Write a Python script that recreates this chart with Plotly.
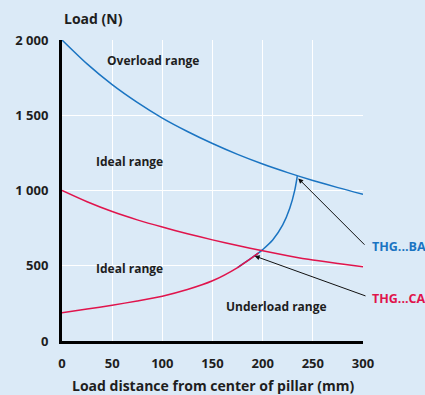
import plotly.graph_objects as go

# Data
ba_upper_x = [0, 25, 50, 75, 100, 125, 150, 175, 200, 225, 250, 275, 300]
ba_upper_y = [2000, 1841, 1703, 1585, 1481, 1392, 1312, 1240, 1176, 1119, 1067, 1019, 975]

ca_upper_x = [0, 25, 50, 75, 100, 125, 150, 175, 200, 225, 250, 275, 300]
ca_upper_y = [1000, 925, 860, 805, 757, 713, 672, 634, 599, 567, 538, 515, 494]

ca_lower_x = [0, 25, 50, 75, 100, 125, 150, 175, 196]
ca_lower_y = [188, 212, 238, 266, 298, 342, 400, 488, 585]

ba_lower_x = [175, 196, 200, 210, 220, 227, 232, 234.5]
ba_lower_y = [488, 585, 607, 671, 771, 882, 1003, 1096]

x_ticks = [0, 50, 100, 150, 200, 250, 300]
y_ticks = [0, 500, 1000, 1500, 2000]
y_tick_labels = ["0", "500", "1 000", "1 500", "2 000"]

BLUE = "#1a74c2"
RED = "#e0144c"
TXT = "#1e1e1e"
BG = "#dbeaf7"
FONT = "Open Sans"

fig = go.Figure()
line_kw = dict(width=1.5, shape="spline", smoothing=0.8)
fig.add_trace(go.Scatter(x=ba_upper_x, y=ba_upper_y, mode="lines", line=dict(color=BLUE, **line_kw), showlegend=False, hoverinfo="skip"))
fig.add_trace(go.Scatter(x=ba_lower_x, y=ba_lower_y, mode="lines", line=dict(color=BLUE, **line_kw), showlegend=False, hoverinfo="skip"))
fig.add_trace(go.Scatter(x=ca_upper_x, y=ca_upper_y, mode="lines", line=dict(color=RED, **line_kw), showlegend=False, hoverinfo="skip"))
fig.add_trace(go.Scatter(x=ca_lower_x, y=ca_lower_y, mode="lines", line=dict(color=RED, **line_kw), showlegend=False, hoverinfo="skip"))

lab_font = dict(family=FONT, size=12, color=TXT, weight="bold")
for txt, x, y in [("Overload range", 91, 1867), ("Ideal range", 67, 1196),
                  ("Ideal range", 67, 485), ("Underload range", 214, 226)]:
    fig.add_annotation(x=x, y=y, text=txt, showarrow=False, font=lab_font)

# arrows
fig.add_annotation(x=235.5, y=1080, ax=303, ay=630, axref="x", ayref="y", text="",
                   showarrow=True, arrowhead=2, arrowsize=1, arrowwidth=1, arrowcolor="#111")
fig.add_annotation(x=192, y=565, ax=304, ay=296, axref="x", ayref="y", text="",
                   showarrow=True, arrowhead=2, arrowsize=1, arrowwidth=1, arrowcolor="#111")
fig.add_annotation(x=1, y=630, xref="paper", yref="y", xanchor="left", xshift=7, text="THG...BA",
                   showarrow=False, font=dict(family=FONT, size=12.5, color=BLUE, weight="bold"))
fig.add_annotation(x=1, y=285, xref="paper", yref="y", xanchor="left", xshift=7, text="THG...CA",
                   showarrow=False, font=dict(family=FONT, size=12.5, color=RED, weight="bold"))

# axis titles
fig.add_annotation(x=0, y=1, xref="paper", yref="paper", xanchor="left", yanchor="bottom", yshift=10,
                   text="Load (N)", showarrow=False, font=dict(family=FONT, size=14, color=TXT, weight="bold"))
fig.add_annotation(x=0.5, y=0, xref="paper", yref="paper", xanchor="center", yanchor="top", yshift=-33,
                   text="Load distance from center of pillar (mm)", showarrow=False,
                   font=dict(family=FONT, size=14, color=TXT, weight="bold"))

fig.update_layout(
    width=425, height=395,
    margin=dict(l=62, r=62, t=40, b=54),
    paper_bgcolor=BG, plot_bgcolor=BG,
    font=dict(family=FONT, color=TXT),
    xaxis=dict(range=[0, 300], tickvals=x_ticks, showgrid=True, gridcolor="white", gridwidth=1,
               showline=True, linecolor="black", linewidth=3, zeroline=False, ticks="",
               ticklabelstandoff=8, tickfont=dict(family=FONT, size=13, color=TXT, weight="bold"),
               fixedrange=True),
    yaxis=dict(range=[0, 2000], tickvals=y_ticks, ticktext=y_tick_labels, showgrid=True, gridcolor="white",
               gridwidth=1, showline=True, linecolor="black", linewidth=3, zeroline=False, ticks="",
               ticklabelstandoff=8, tickfont=dict(family=FONT, size=13, color=TXT, weight="bold"),
               fixedrange=True),
)

fig.write_html("out.html", config={"displayModeBar": False},
               post_script="document.body.style.margin='0';document.body.style.overflow='hidden';")
